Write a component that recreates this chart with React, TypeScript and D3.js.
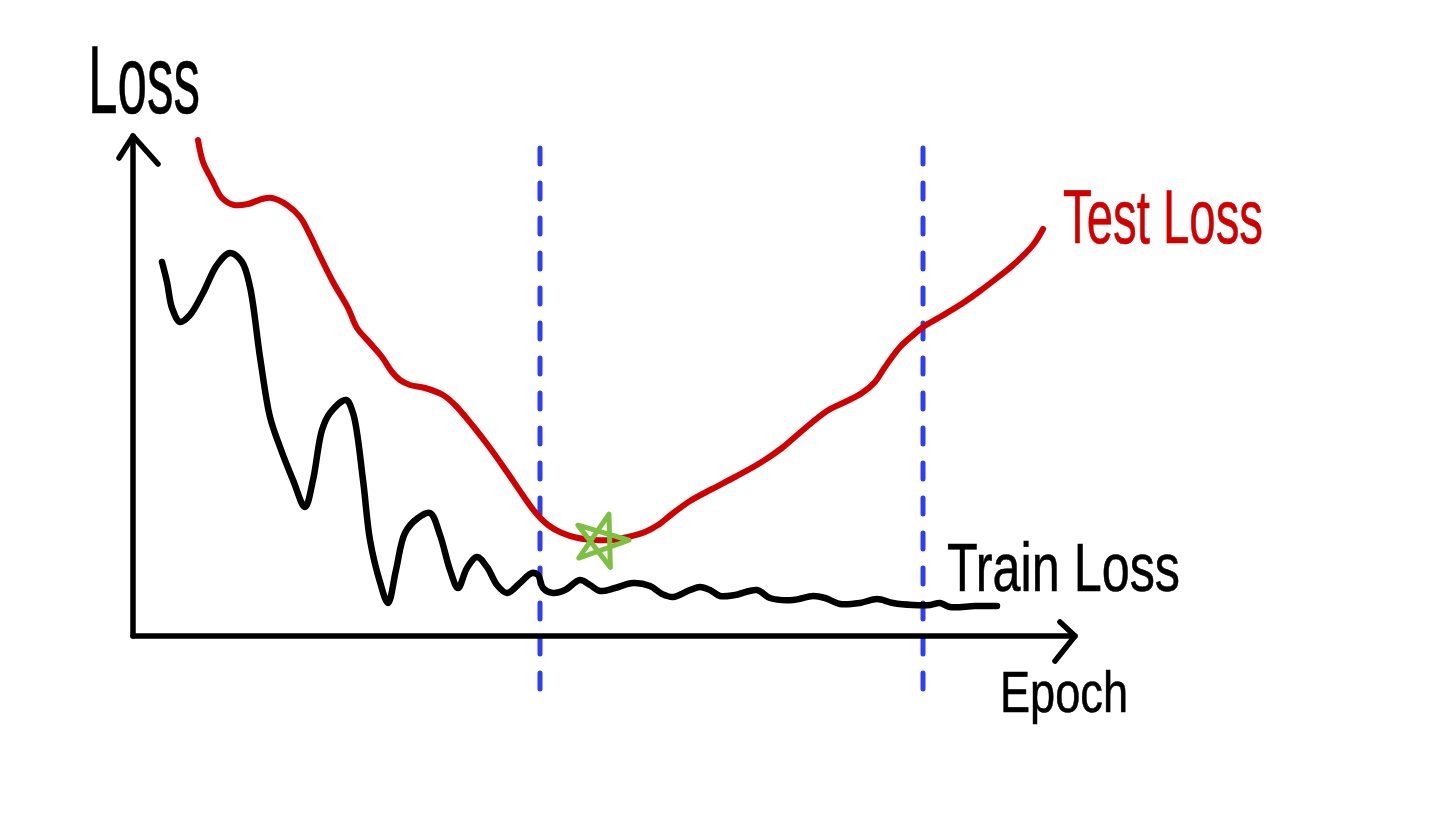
import React from "react";
import * as d3 from "d3";

// Data: [epoch, loss]
const testLoss: [number, number][] = [
  [65, 496], [70, 474], [79, 456], [89, 438], [101, 431], [115, 432], [129, 437], [139, 438],
  [154, 431], [167, 419], [177, 401], [185, 384], [200, 354], [215, 328], [224, 308], [237, 293],
  [249, 279], [259, 264], [267, 256], [277, 251], [292, 248], [310, 241], [322, 231], [340, 210],
  [357, 188], [374, 164], [389, 142], [402, 124], [415, 111], [429, 103], [445, 98], [462, 96],
  [479, 96], [495, 99], [512, 104], [525, 111], [539, 122], [557, 135], [579, 147], [602, 159],
  [627, 173], [649, 188], [670, 206], [694, 225], [712, 234], [729, 243], [742, 254], [752, 269],
  [767, 289], [779, 300], [790, 309], [807, 319], [830, 333], [847, 345], [864, 358], [879, 370],
  [900, 391], [910, 407],
];

const trainLoss: [number, number][] = [
  [29, 374], [34, 354], [39, 328], [47, 314], [57, 321], [70, 343], [84, 371], [97, 383],
  [109, 374], [117, 349], [127, 279], [137, 219], [147, 189], [160, 156], [172, 129], [180, 156],
  [189, 206], [197, 223], [213, 236], [220, 223], [230, 156], [237, 96], [247, 54], [255, 33],
  [263, 66], [272, 103], [285, 118], [297, 123], [307, 101], [317, 66], [325, 48], [334, 68],
  [344, 79], [354, 69], [364, 51], [374, 43], [387, 53], [399, 63], [405, 61], [410, 48],
  [420, 43], [432, 46], [447, 56], [457, 51], [467, 45], [482, 48], [500, 53], [517, 50],
  [529, 42], [540, 39], [557, 46], [567, 49], [577, 46], [587, 40], [602, 41], [624, 46],
  [637, 38], [660, 36], [680, 40], [692, 38], [707, 32], [727, 33], [744, 37], [760, 33],
  [780, 31], [797, 31], [807, 33], [817, 29], [842, 30], [864, 30],
];

const bestPoint: [number, number] = [468, 95];
const markerEpochs: number[] = [407, 790];
const markerLossRange: [number, number] = [-59, 488];

const xLabel = "Epoch";
const yLabel = "Loss";
const testLabel = "Test Loss";
const trainLabel = "Train Loss";

const W = 1440;
const H = 819;

const x = d3.scaleLinear().domain([0, 942]).range([133, 1075]);
const y = d3.scaleLinear().domain([0, 500]).range([636, 136]);

const line = d3
  .line<[number, number]>()
  .x((d) => x(d[0]))
  .y((d) => y(d[1]))
  .curve(d3.curveCatmullRom.alpha(0.5));

function Label(props: {
  text: string;
  left: number;
  baseline: number;
  width: number;
  size: number;
  color: string;
}) {
  return (
    <text
      x={props.left}
      y={props.baseline}
      textLength={props.width}
      lengthAdjust="spacingAndGlyphs"
      fontFamily="'Liberation Sans', Arial, sans-serif"
      fontSize={props.size}
      fill={props.color}
      stroke={props.color}
      strokeWidth={0.6}
    >
      {props.text}
    </text>
  );
}

function pentagram(cx: number, cy: number, r: number, rot: number) {
  const pts = d3.range(5).map((i) => {
    const a = ((rot + i * 72) * Math.PI) / 180;
    return [cx + r * Math.cos(a), cy + r * Math.sin(a)];
  });
  const order = [0, 2, 4, 1, 3];
  return "M" + order.map((i) => pts[i].join(",")).join("L") + "Z";
}

export default function App() {
  const x0 = x(0);
  const y0 = y(0);
  const xEnd = x(942);
  const yEnd = y(500);
  return (
    <svg
      width={W}
      height={H}
      style={{ position: "absolute", left: 0, top: 0, display: "block", background: "#fff" }}
    >
      {/* dashed markers */}
      {markerEpochs.map((e, i) => (
        <line
          key={i}
          x1={x(e)}
          x2={x(e)}
          y1={y(markerLossRange[1])}
          y2={y(markerLossRange[0])}
          stroke="#2f3ff0"
          strokeWidth={5}
          strokeDasharray="16 19"
          strokeLinecap="round"
        />
      ))}
      {/* axes */}
      <g stroke="#000" strokeWidth={5.5} strokeLinecap="round" strokeLinejoin="round" fill="none">
        <line x1={x0} y1={y0} x2={x0} y2={yEnd} />
        <path d={`M${x0 - 14},${yEnd + 22} L${x0},${yEnd} L${x0 + 25},${yEnd + 28}`} />
        <line x1={x0} y1={y0} x2={xEnd} y2={y0} />
        <path d={`M${xEnd - 15},${y0 - 14} L${xEnd},${y0} L${xEnd - 20},${y0 + 25}`} />
      </g>
      {/* curves */}
      <path d={line(trainLoss) || ""} fill="none" stroke="#000" strokeWidth={6.5} strokeLinecap="round" strokeLinejoin="round" />
      <path d={line(testLoss) || ""} fill="none" stroke="#d00000" strokeWidth={6} strokeLinecap="round" strokeLinejoin="round" />
      {/* best point */}
      <path
        d={pentagram(x(bestPoint[0]), y(bestPoint[1]), 28, -73.5)}
        fill="none"
        stroke="#7cc142"
        strokeWidth={5}
        strokeLinejoin="round"
      />
      {/* labels */}
      <Label text={yLabel} left={88} baseline={113} width={112} size={96} color="#000" />
      <Label text={testLabel} left={1063} baseline={243} width={200} size={76} color="#d00000" />
      <Label text={trainLabel} left={947} baseline={591} width={233} size={68} color="#000" />
      <Label text={xLabel} left={1000} baseline={712} width={128} size={58} color="#000" />
    </svg>
  );
}
